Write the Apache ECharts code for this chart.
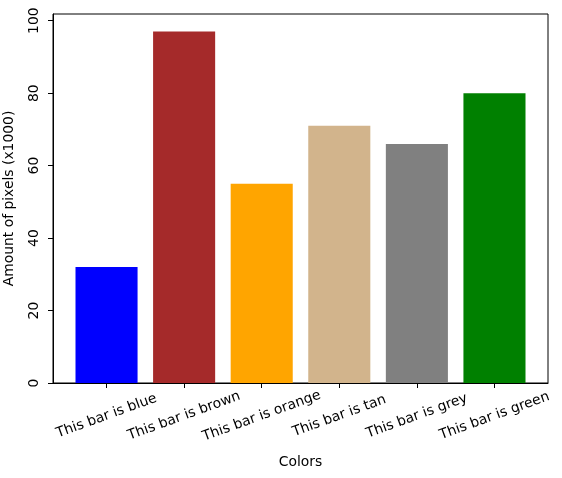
<!DOCTYPE html>
<html>
<head>
<meta charset="utf-8">
<script src="https://cdn.jsdelivr.net/npm/echarts@6/dist/echarts.min.js"></script>
<style>
    html, body { margin: 0; padding: 0; background: #fff; }
    #app { width: 562px; height: 478px; }
</style>
</head>
<body>
<div id="app"></div>
<script>
// 数据
const categories = ['This bar is blue', 'This bar is brown', 'This bar is orange',
    'This bar is tan', 'This bar is grey', 'This bar is green'];
const values = [32, 97, 55, 71, 66, 80];
const barColors = ['#0000ff', '#a52a2a', '#ffa500', '#d2b48c', '#808080', '#008000'];
const yTicks = [0, 20, 40, 60, 80, 100];

const font = 'DejaVu Sans';

// 初始化图表
let myChart = echarts.init(document.getElementById('app'));

myChart.setOption({
    animation: false,
    grid: {
        left: 53, right: 14, top: 14, bottom: 95,
        outerBoundsMode: 'none',
        containLabel: false,
        show: true, borderColor: '#000', borderWidth: 1
    },
    xAxis: {
        type: 'value',
        min: -0.69,
        max: 5.69,
        name: 'Colors',
        nameLocation: 'middle',
        nameGap: 72,
        nameTextStyle: { color: '#000', fontFamily: font, fontSize: 13.9 },
        splitLine: { show: false },
        axisLine: { show: true, onZero: false, lineStyle: { color: '#000' } },
        axisTick: { show: true, length: 5, lineStyle: { color: '#000' },
            customValues: categories.map((c, i) => i) },
        axisLabel: {
            customValues: categories.map((c, i) => i),
            formatter: v => categories[Math.round(v)],
            rotate: 20,
            align: 'center',
            verticalAlign: 'middle',
            margin: 33,
            color: '#000', fontFamily: font, fontSize: 13.9
        }
    },
    yAxis: {
        type: 'value',
        min: 0,
        max: 101.85,
        interval: 20,
        name: 'Amount of pixels (x1000)',
        nameLocation: 'middle',
        nameGap: 37,
        nameTextStyle: { color: '#000', fontFamily: font, fontSize: 13.9 },
        splitLine: { show: false },
        axisLine: { show: true, onZero: false, lineStyle: { color: '#000' } },
        axisTick: { show: true, length: 5, lineStyle: { color: '#000' },
            customValues: yTicks },
        axisLabel: {
            customValues: yTicks,
            rotate: 90,
            align: 'center',
            verticalAlign: 'bottom',
            margin: 12,
            color: '#000', fontFamily: font, fontSize: 13.9
        }
    },
    series: [{
        type: 'bar',
        barWidth: '80%',
        data: values.map((v, i) => ({
            value: [i, v],
            itemStyle: { color: barColors[i] }
        }))
    }]
});
</script>
</body>
</html>
